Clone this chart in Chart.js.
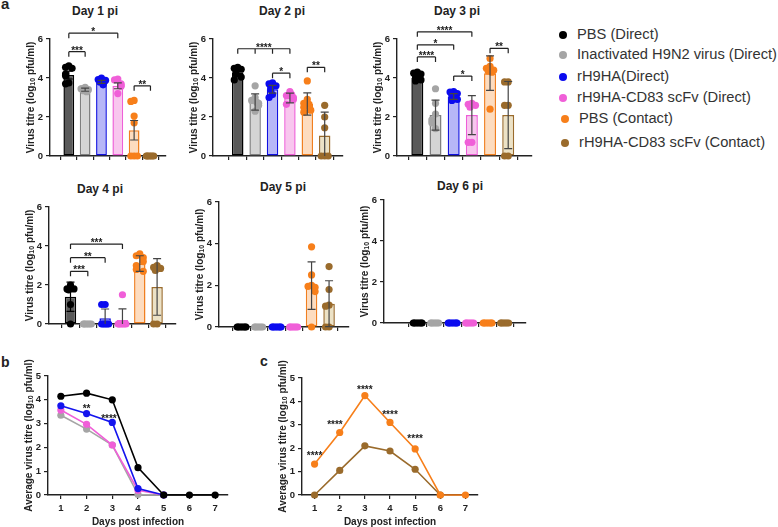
<!DOCTYPE html>
<html>
<head>
<meta charset="utf-8">
<script src="https://cdn.jsdelivr.net/npm/chart.js@4.4.1/dist/chart.umd.min.js"></script>
<style>
  html, body { margin: 0; padding: 0; background: #fff; }
  #wrap { position: relative; width: 778px; height: 527px; overflow: hidden; background: #fff;
          font-family: "Liberation Sans", Arial, sans-serif; color: #222; }
  canvas { position: absolute; }
  .ttl { position: absolute; font-weight: bold; font-size: 12px; line-height: 12px; transform: translateX(-50%); white-space: nowrap; }
  .lbl { position: absolute; font-weight: bold; line-height: 1; }
  .leg { position: absolute; font-size: 14.7px; line-height: 17px; color: #333; white-space: nowrap; }
  .dot { position: absolute; width: 8px; height: 8px; border-radius: 50%; }
</style>
</head>
<body>
<div id="wrap">
  <div class="lbl" style="left:1px;top:-4px;font-size:15px">a</div>
  <div class="lbl" style="left:1px;top:355px;font-size:14px">b</div>
  <div class="lbl" style="left:260px;top:354px;font-size:14px">c</div>

  <div class="ttl" style="left:95px;top:5px">Day 1 pi</div>
  <div class="ttl" style="left:282px;top:5px">Day 2 pi</div>
  <div class="ttl" style="left:457px;top:5px">Day 3 pi</div>
  <div class="ttl" style="left:100px;top:183px">Day 4 pi</div>
  <div class="ttl" style="left:283px;top:181px">Day 5 pi</div>
  <div class="ttl" style="left:460px;top:180px">Day 6 pi</div>

  <div id="legend"></div>

  <canvas id="d1"></canvas>
  <canvas id="d2"></canvas>
  <canvas id="d3"></canvas>
  <canvas id="d4"></canvas>
  <canvas id="d5"></canvas>
  <canvas id="d6"></canvas>
  <canvas id="pb"></canvas>
  <canvas id="pc"></canvas>
</div>
<script>
// groups
const groupNames = ['PBS (Direct)', 'Inactivated H9N2 virus (Direct)', 'rH9HA(Direct)', 'rH9HA-CD83 scFv (Direct)', 'PBS (Contact)', 'rH9HA-CD83 scFv (Contact)'];
const dotColors = ['#000000', '#a5a5a5', '#0b0bef', '#f05fd8', '#f77f1a', '#9a6b2c'];
const barFills = ['#595959', '#d4d4d4', '#b7b7f7', '#f8c6ee', '#fddcbf', '#ece2c6'];
const barEdges = ['#000000', '#7f7f7f', '#1010e0', '#ee5fd8', '#f07f20', '#9a6b2c'];

// Day 1
const d1Mean = [4.15, 3.40, 3.80, 3.60, 1.32, 0];
const d1Err = [0.20, 0.08, 0.08, 0.15, 0.50, 0];
const d1Pts = [
  [4.62, 4.55, 4.50, 4.20, 4.12, 3.75, 3.70],
  [3.52, 3.45, 3.40, 3.35, 3.30, 3.45],
  [4.00, 3.92, 3.85, 3.80, 3.72, 3.65, 3.88],
  [3.95, 3.90, 3.70, 3.62, 3.58, 3.20],
  [2.85, 2.80, 2.05, 1.70, 0, 0, 0],
  [0, 0, 0, 0, 0, 0]
];
const d1Sig = [[0, 1, 5.35, '***'], [0, 3, 6.3, '*'], [4, 5, 3.6, '**']];

// Day 2
const d2Mean = [4.28, 2.77, 3.42, 2.97, 2.67, 1.05];
const d2Err = [0.15, 0.42, 0.20, 0.25, 0.57, 1.20];
const d2Pts = [
  [4.55, 4.50, 4.45, 4.35, 4.20, 4.05, 3.90],
  [3.60, 3.00, 2.85, 2.70, 2.60, 2.30, 2.75],
  [3.75, 3.70, 3.60, 3.50, 3.15, 3.00, 3.40],
  [3.30, 3.10, 3.00, 2.90, 2.65, 3.15],
  [3.85, 2.90, 2.70, 2.50, 2.25, 2.35, 2.65],
  [2.60, 2.00, 1.45, 0, 0, 0]
];
const d2Sig = [[0, 3, 5.5, '****', [1, 2]], [2, 3, 4.25, '*'], [4, 5, 4.55, '**']];

// Day 3
const d3Mean = [4.00, 2.10, 3.05, 2.10, 4.25, 2.10];
const d3Err = [0.12, 0.77, 0.15, 1.00, 0.88, 1.72];
const d3Pts = [
  [4.30, 4.25, 4.20, 4.05, 4.00, 3.90, 3.85],
  [3.45, 2.70, 2.15, 1.85, 1.70, 1.40],
  [3.30, 3.28, 3.20, 3.10, 3.00, 2.90, 2.85],
  [2.70, 2.65, 2.60, 2.50, 0.70, 0.70],
  [5.00, 4.60, 4.50, 4.40, 4.35, 4.30, 2.40],
  [3.80, 3.80, 2.60, 2.60, 0, 0]
];
const d3Sig = [[0, 1, 5.08, '****'], [0, 2, 5.7, '*'], [0, 3, 6.37, '****'], [2, 3, 4.1, '*'], [4, 5, 5.52, '**']];

// Day 4
const d4Mean = [1.40, 0, 0.29, 0.21, 3.10, 1.90];
const d4Err = [0.75, 0, 0.48, 0.57, 0.40, 1.45];
const d4Pts = [
  [2.00, 1.80, 1.80, 1.75, 1.00, 0],
  [0, 0, 0, 0, 0, 0],
  [1.00, 1.00, 0, 0, 0, 0, 0],
  [1.50, 0, 0, 0, 0, 0, 0],
  [3.60, 3.50, 3.40, 3.20, 3.00, 2.80, 2.70],
  [3.00, 2.90, 2.85, 2.75, 0, 0]
];
const d4Sig = [[0, 1, 2.7, '***'], [0, 2, 3.4, '**'], [0, 3, 4.1, '***']];

// Day 5
const d5Mean = [0, 0, 0, 0, 1.99, 1.12];
const d5Err = [0, 0, 0, 0, 1.14, 1.10];
const d5Pts = [
  [0, 0, 0, 0, 0, 0, 0],
  [0, 0, 0, 0, 0, 0],
  [0, 0, 0, 0, 0, 0, 0],
  [0, 0, 0, 0, 0, 0],
  [3.85, 2.50, 2.00, 1.95, 1.90, 1.70, 0],
  [2.90, 1.80, 1.05, 1.00, 0, 0]
];

// Day 6
const d6Mean = [0, 0, 0, 0, 0, 0];
const d6Err = [0, 0, 0, 0, 0, 0];
const d6Pts = [
  [0, 0, 0, 0, 0, 0, 0],
  [0, 0, 0, 0, 0, 0],
  [0, 0, 0, 0, 0, 0, 0],
  [0, 0, 0, 0, 0, 0],
  [0, 0, 0, 0, 0, 0, 0],
  [0, 0, 0, 0, 0, 0]
];

// b and c: average titres per day
const days = ['1', '2', '3', '4', '5', '6', '7'];
const avgPbsDirect = [4.15, 4.28, 4.00, 1.15, 0, 0, 0];
const avgRH9HA = [3.75, 3.42, 3.05, 0.27, 0, null, null];
const avgCD83Direct = [3.57, 2.97, 2.10, 0.20, 0, null, null];
const avgInactivated = [3.35, 2.77, 2.10, 0.02, 0, null, null];
const avgPbsContact = [1.32, 2.67, 4.25, 3.10, 1.97, 0, 0];
const avgCD83Contact = [0, 1.05, 2.10, 1.88, 1.10, 0, null];
const bStars = [[1, 3.72, '**'], [1.87, 3.28, '****']];
const cStars = [[0, 1.78, '****'], [0.81, 3.1, '****'], [2, 4.58, '****'], [3, 3.52, '****'], [4, 2.52, '****']];

const AX = '#222';
const FONT = '"Liberation Sans", Arial, sans-serif';
Chart.defaults.font.family = FONT;
Chart.defaults.color = AX;

// legend
const legend = document.getElementById('legend');
const legRows = [35, 55, 77, 98, 119, 143];
groupNames.forEach((name, i) => {
  const shift = i >= 4 ? 2 : 0;
  legend.innerHTML += `<div class="dot" style="left:${559 + shift}px;top:${legRows[i] - 4}px;background:${dotColors[i]}"></div>
    <div class="leg" style="left:${577 + shift}px;top:${legRows[i] - 9}px">${name}</div>`;
});

// little beeswarm so dots with the same value sit side by side
function spread(vals, g) {
  const pattern = [0, -0.2, 0.2, -0.1, 0.1, -0.25, 0.25, 0.05, -0.05];
  const placed = [];
  return vals.map(v => {
    const near = placed.filter(p => Math.abs(p - v) < 0.3).length;
    placed.push(v);
    return { x: g + pattern[near % pattern.length], y: v, g: g };
  });
}

function starText(ctx, text, x, y) {
  ctx.save();
  ctx.fillStyle = AX;
  ctx.font = 'bold 10px ' + FONT;
  ctx.textAlign = 'center';
  ctx.textBaseline = 'alphabetic';
  ctx.fillText(text, x, y);
  ctx.restore();
}

// rotated y title with a real subscript for "10"
function yTitle(chart, pre) {
  const ctx = chart.ctx, ys = chart.scales.y;
  const cx = ys.left + 8;
  const cy = (chart.chartArea.top + chart.chartArea.bottom) / 2;
  const parts = [[pre + ' (log', 10, 0], ['10', 7, 2.5], [' pfu/ml)', 10, 0]];
  ctx.save();
  ctx.translate(cx, cy);
  ctx.rotate(-Math.PI / 2);
  ctx.fillStyle = AX;
  ctx.textBaseline = 'middle';
  ctx.textAlign = 'left';
  let total = 0;
  parts.forEach(p => { ctx.font = `bold ${p[1]}px ${FONT}`; total += ctx.measureText(p[0]).width; });
  let x = -total / 2;
  parts.forEach(p => {
    ctx.font = `bold ${p[1]}px ${FONT}`;
    ctx.fillText(p[0], x, 1 + p[2]);
    x += ctx.measureText(p[0]).width;
  });
  ctx.restore();
}

function barPanel(id, cfg) {
  const W = 28, PT = 36, PR = 6, H = 10;
  const b = cfg.box;
  const cv = document.getElementById(id);
  cv.width = b.r - b.l + W + PR;
  cv.height = b.b - b.t + PT + H;
  cv.style.left = (b.l - W) + 'px';
  cv.style.top = (b.t - PT) + 'px';

  const pts = [];
  cfg.points.forEach((vals, g) => pts.push(...spread(vals, g)));

  const marks = {
    id: 'marks' + id,
    afterDatasetsDraw(chart) {
      const ctx = chart.ctx, xs = chart.scales.x, ys = chart.scales.y;
      ctx.save();
      ctx.lineWidth = 1.2;
      cfg.means.forEach((m, i) => {
        if (!cfg.err[i]) return;
        const x = xs.getPixelForValue(i);
        const lo = Math.max(0, m - cfg.err[i]);
        const yt = ys.getPixelForValue(m + cfg.err[i]);
        const yb = ys.getPixelForValue(lo);
        ctx.strokeStyle = i === 0 ? '#000' : '#444';
        ctx.beginPath();
        ctx.moveTo(x, yt); ctx.lineTo(x, yb);
        ctx.moveTo(x - 4, yt); ctx.lineTo(x + 4, yt);
        if (lo > 0) { ctx.moveTo(x - 4, yb); ctx.lineTo(x + 4, yb); }
        ctx.stroke();
      });
      ctx.restore();
    },
    afterDraw(chart) {
      const ctx = chart.ctx, xs = chart.scales.x, ys = chart.scales.y;
      ctx.save();
      ctx.strokeStyle = AX;
      ctx.lineWidth = 1.2;
      (cfg.sig || []).forEach(s => {
        const x1 = xs.getPixelForValue(s[0]), x2 = xs.getPixelForValue(s[1]);
        const y = ys.getPixelForValue(s[2]);
        const drops = [s[0], s[1]].concat(s[4] || []);
        ctx.beginPath();
        ctx.moveTo(x1, y); ctx.lineTo(x2, y);
        drops.forEach(d => {
          const xd = xs.getPixelForValue(d);
          ctx.moveTo(xd, y); ctx.lineTo(xd, y + 5);
        });
        ctx.stroke();
        starText(ctx, s[3], (x1 + x2) / 2, y + 2);
      });
      ctx.restore();
      yTitle(chart, 'Virus titre');
    }
  };

  new Chart(cv, {
    type: 'bar',
    data: {
      datasets: [
        {
          type: 'scatter',
          data: pts,
          order: 0,
          clip: false,
          pointRadius: 3.6,
          pointBorderWidth: 0,
          pointBackgroundColor: c => c.raw ? dotColors[c.raw.g] : '#000',
          pointBorderColor: c => c.raw ? dotColors[c.raw.g] : '#000'
        },
        {
          type: 'bar',
          data: cfg.means.map((m, i) => ({ x: i, y: m })),
          order: 1,
          backgroundColor: barFills,
          borderColor: barEdges,
          borderWidth: 1.5,
          borderSkipped: false,
          barPercentage: 0.66,
          categoryPercentage: 1
        }
      ]
    },
    options: {
      responsive: false,
      animation: false,
      devicePixelRatio: 1,
      layout: { padding: { top: PT, right: PR, left: 0, bottom: 0 } },
      plugins: { legend: { display: false }, tooltip: { enabled: false } },
      scales: {
        x: {
          type: 'linear',
          min: cfg.xMin,
          max: cfg.xMax,
          afterBuildTicks: s => { s.ticks = cfg.means.map((_, i) => ({ value: i })); },
          ticks: { display: false },
          grid: { drawOnChartArea: false, tickLength: 4, color: AX, lineWidth: 1.2 },
          border: { color: AX, width: 1.4 },
          afterFit: s => { s.height = H; }
        },
        y: {
          min: 0,
          max: 6,
          ticks: { stepSize: 2, padding: 3, font: { size: 9.5, weight: 'bold' }, color: AX },
          grid: { drawOnChartArea: false, tickLength: 4, color: AX, lineWidth: 1.2 },
          border: { color: AX, width: 1.4 },
          afterFit: s => { s.width = W; }
        }
      }
    },
    plugins: [marks]
  });
}

function linePanel(id, cfg) {
  const W = 28, PT = 30, PR = 8, H = 33;
  const b = cfg.box;
  const cv = document.getElementById(id);
  cv.width = b.r - b.l + W + PR;
  cv.height = b.b - b.t + PT + H;
  cv.style.left = (b.l - W) + 'px';
  cv.style.top = (b.t - PT) + 'px';

  const stars = {
    id: 'stars' + id,
    afterDraw(chart) {
      const xs = chart.scales.x, ys = chart.scales.y;
      cfg.stars.forEach(s => starText(chart.ctx, s[2], xs.getPixelForValue(s[0]), ys.getPixelForValue(s[1]) + 5.5));
      yTitle(chart, 'Average virus titre');
    }
  };

  new Chart(cv, {
    type: 'line',
    data: {
      labels: days,
      datasets: cfg.series.map((s, k) => ({
        data: s,
        borderColor: cfg.colors[k],
        backgroundColor: cfg.colors[k],
        pointBackgroundColor: cfg.colors[k],
        pointBorderColor: cfg.colors[k],
        pointRadius: 3.6,
        pointBorderWidth: 0,
        borderWidth: 1.6,
        tension: 0,
        clip: false
      }))
    },
    options: {
      responsive: false,
      animation: false,
      devicePixelRatio: 1,
      layout: { padding: { top: PT, right: PR, left: 0, bottom: 0 } },
      plugins: { legend: { display: false }, tooltip: { enabled: false } },
      scales: {
        x: {
          offset: true,
          ticks: { padding: 4, font: { size: 9.5, weight: 'bold' }, color: AX },
          grid: { offset: false, drawOnChartArea: false, tickLength: 4, color: AX, lineWidth: 1.2 },
          border: { color: AX, width: 1.4 },
          title: { display: true, text: 'Days post infection', color: AX,
                   font: { size: 10, weight: 'bold' }, padding: { top: 0, bottom: 0 } },
          afterFit: s => { s.height = H; }
        },
        y: {
          min: 0,
          max: 5,
          ticks: { stepSize: 1, padding: 3, font: { size: 9.5, weight: 'bold' }, color: AX },
          grid: { drawOnChartArea: false, tickLength: 4, color: AX, lineWidth: 1.2 },
          border: { color: AX, width: 1.4 },
          afterFit: s => { s.width = W; }
        }
      }
    },
    plugins: [stars]
  });
}

barPanel('d1', { means: d1Mean, err: d1Err, points: d1Pts, sig: d1Sig, box: { l: 50, t: 39, r: 166, b: 156 }, xMin: -0.56, xMax: 5.36 });
barPanel('d2', { means: d2Mean, err: d2Err, points: d2Pts, sig: d2Sig, box: { l: 213, t: 39, r: 343, b: 156 }, xMin: -0.8, xMax: 5.43 });
barPanel('d3', { means: d3Mean, err: d3Err, points: d3Pts, sig: d3Sig, box: { l: 397, t: 39, r: 532, b: 156 }, xMin: -0.5, xMax: 5.69 });
barPanel('d4', { means: d4Mean, err: d4Err, points: d4Pts, sig: d4Sig, box: { l: 49, t: 207, r: 176, b: 324 }, xMin: -0.63, xMax: 5.48 });
barPanel('d5', { means: d5Mean, err: d5Err, points: d5Pts, sig: [], box: { l: 219, t: 202, r: 349, b: 327 }, xMin: -0.67, xMax: 5.52 });
barPanel('d6', { means: d6Mean, err: d6Err, points: d6Pts, sig: [], box: { l: 384, t: 200, r: 526, b: 323 }, xMin: -1.25, xMax: 5.52 });

linePanel('pb', {
  series: [avgPbsDirect, avgRH9HA, avgCD83Direct, avgInactivated],
  colors: ['#000000', '#1414ee', '#f05fd8', '#a5a5a5'],
  stars: bStars,
  box: { l: 48, t: 376, r: 228, b: 495 }
});
linePanel('pc', {
  series: [avgPbsContact, avgCD83Contact],
  colors: ['#f77f1a', '#9a6b2c'],
  stars: cStars,
  box: { l: 302, t: 378, r: 478, b: 495 }
});
</script>
</body>
</html>
